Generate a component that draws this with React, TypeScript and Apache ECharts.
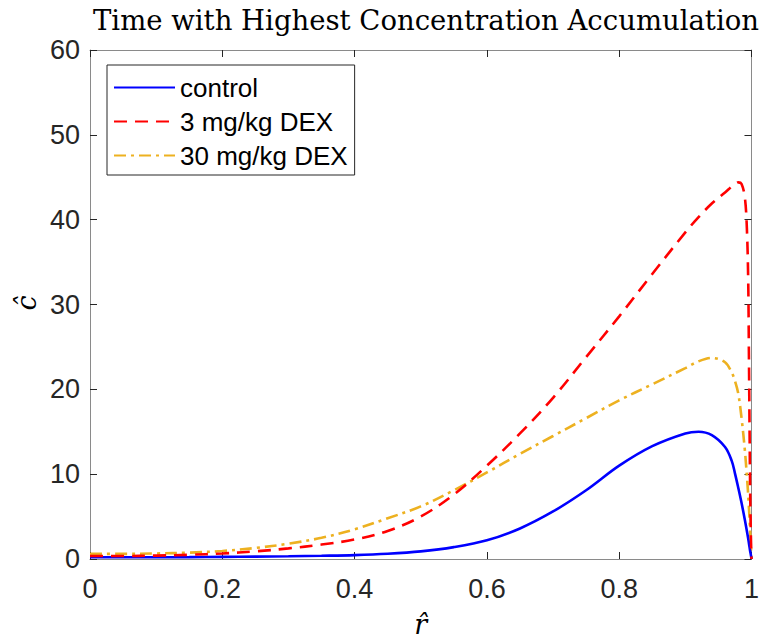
import React, { useEffect, useRef } from "react";
import * as echarts from "echarts";

const titleText = "Time with Highest Concentration Accumulation";
const seriesNames = ["control", "3 mg/kg DEX", "30 mg/kg DEX"];
const xTicks = [0, 0.2, 0.4, 0.6, 0.8, 1];
const yTicks = [0, 10, 20, 30, 40, 50, 60];

const rHat = [0, 0.05, 0.1, 0.15, 0.2, 0.25, 0.3, 0.35, 0.4, 0.45, 0.5, 0.55, 0.6, 0.65, 0.7, 0.75, 0.8, 0.85, 0.9, 0.92, 0.94, 0.96, 0.97, 0.975, 0.98, 0.985, 0.99, 0.993, 0.995, 0.996, 0.997, 0.998, 0.999, 1.0];

const controlC = [0.2, 0.2, 0.2, 0.22, 0.25, 0.28, 0.32, 0.38, 0.46, 0.62, 0.9, 1.4, 2.2, 3.6, 5.6, 8.1, 11.0, 13.3, 14.8, 15.0, 14.6, 13.2, 11.6, 10.1, 8.4, 6.6, 4.6, 3.3, 2.4, 1.9, 1.4, 0.9, 0.5, 0];

const dex3C = [0.35, 0.35, 0.4, 0.5, 0.65, 0.9, 1.25, 1.7, 2.3, 3.3, 5.0, 7.6, 11.0, 14.8, 19.0, 23.8, 28.6, 33.6, 38.5, 40.3, 41.9, 43.2, 43.9, 44.2, 44.4, 44.2, 42.6, 39, 33, 25, 16, 8, 3, 0];

const dex30C = [0.6, 0.6, 0.65, 0.75, 0.95, 1.3, 1.8, 2.5, 3.5, 4.8, 6.2, 8.1, 10.2, 12.4, 14.5, 16.6, 18.7, 20.6, 22.5, 23.3, 23.7, 23.2, 22.0, 21.0, 19.5, 16.6, 12.8, 9.8, 7.6, 6.2, 4.8, 3.2, 1.7, 0];

const colors = ["#0000FF", "#FF0000", "#EDB120"];

export default function App() {
  const ref = useRef<HTMLDivElement>(null);
  useEffect(() => {
    if (!ref.current) return;
    const chart = echarts.init(ref.current, null, { renderer: "svg" });
    const axisGray = "#8a8a8a";
    const tickDark = "#262626";
    const labelFont = "'Liberation Sans', Arial, Helvetica, sans-serif";
    const serif = "'DejaVu Serif', 'Liberation Serif', serif";
    const fmtX = (v: number) => {
      const t = xTicks.find((k) => Math.abs(k - v) < 1e-9);
      return t === undefined ? "" : t === 0 || t === 1 ? String(t) : t.toFixed(1);
    };
    const fmtY = (v: number) => {
      const t = yTicks.find((k) => Math.abs(k - v) < 1e-9);
      return t === undefined ? "" : String(t);
    };
    const mk = (ys: number[]) => rHat.map((x, i) => [x, ys[i]]);
    const baseAxisLine = { show: true, onZero: false, lineStyle: { color: axisGray, width: 1 } };
    const baseTick = { show: true, inside: true, length: 7, lineStyle: { color: tickDark, width: 1 } };
    const lineSeries = (i: number, ys: number[], type: any, z: number) => ({
      name: seriesNames[i],
      type: "line",
      data: mk(ys),
      showSymbol: false,
      symbol: "none",
      smooth: 0.35,
      lineStyle: { color: colors[i], width: 2.6, type },
      itemStyle: { color: colors[i] },
      z,
    });
    chart.setOption({
      animation: false,
      title: {
        text: titleText,
        left: 421,
        textAlign: "center",
        top: 1,
        textStyle: { fontFamily: serif, fontSize: 27.5, fontWeight: "normal", color: "#000" },
      },
      grid: { left: 90, right: 5, top: 50, bottom: 85, containLabel: false },
      legend: {
        orient: "vertical",
        left: 107,
        top: 65,
        padding: [9, 7, 6, 6],
        itemWidth: 61,
        itemHeight: 2,
        itemGap: 7,
        itemStyle: { opacity: 0 },
        borderColor: "#262626",
        borderWidth: 1,
        backgroundColor: "#fff",
        textStyle: { fontFamily: labelFont, fontSize: 26, color: "#000", lineHeight: 27 },
        data: seriesNames,
      },
      graphic: [
        {
          type: "text",
          x: 26,
          y: 303,
          rotation: Math.PI / 2,
          style: {
            text: "\u0109",
            fontFamily: serif,
            fontStyle: "italic",
            fontSize: 27,
            fill: "#000",
            align: "center",
            verticalAlign: "middle",
          },
        },
      ],
      xAxis: [
        {
          type: "value",
          min: 0,
          max: 1,
          interval: 0.2,
          position: "bottom",
          axisLine: baseAxisLine,
          axisTick: baseTick,
          splitLine: { show: false },
          axisLabel: { fontFamily: labelFont, fontSize: 27, color: tickDark, margin: 16, formatter: fmtX },
          name: "r\u0302",
          nameLocation: "middle",
          nameGap: 52,
          nameTextStyle: { fontFamily: serif, fontStyle: "italic", fontSize: 27, color: "#000" },
        },
        {
          type: "value",
          min: 0,
          max: 1,
          interval: 0.2,
          position: "top",
          axisLine: baseAxisLine,
          axisTick: baseTick,
          splitLine: { show: false },
          axisLabel: { show: false },
        },
      ],
      yAxis: [
        {
          type: "value",
          min: 0,
          max: 60,
          interval: 10,
          position: "left",
          axisLine: baseAxisLine,
          axisTick: baseTick,
          splitLine: { show: false },
          axisLabel: { fontFamily: labelFont, fontSize: 27, color: tickDark, margin: 10, formatter: fmtY },
        },
        {
          type: "value",
          min: 0,
          max: 60,
          interval: 10,
          position: "right",
          axisLine: baseAxisLine,
          axisTick: baseTick,
          splitLine: { show: false },
          axisLabel: { show: false },
        },
      ],
      series: [
        lineSeries(0, controlC, "solid", 3),
        lineSeries(1, dex3C, [13, 8], 4),
        lineSeries(2, dex30C, [12, 5, 3, 5], 2),
      ],
    });
    return () => chart.dispose();
  }, []);
  return (
    <div
      ref={ref}
      style={{ position: "fixed", left: 0, top: 0, width: 762, height: 644, background: "#fff" }}
    />
  );
}
